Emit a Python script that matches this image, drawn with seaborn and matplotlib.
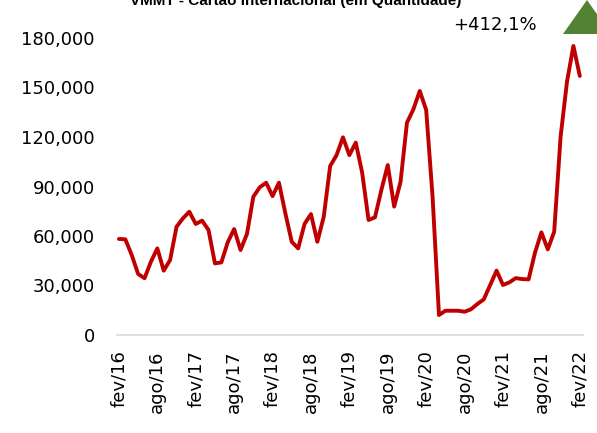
import matplotlib
matplotlib.use("Agg")
import matplotlib.pyplot as plt
from matplotlib.patches import Polygon
from matplotlib.ticker import FuncFormatter
import pandas as pd
import seaborn as sns

# Monthly quantity, fev/2016 .. fev/2022
meses_pt = ["jan", "fev", "mar", "abr", "mai", "jun",
            "jul", "ago", "set", "out", "nov", "dez"]
quantidade = [
    58200, 58000, 48500, 37000, 34400, 44400, 52500, 39000, 45500, 65600, 70700,   # 2016
    74700, 67300, 69300, 63600, 43400, 44000, 56200, 64200, 51500, 61200, 83800,
    89500, 92300,                                                                  # 2017
    84200, 92300, 73800, 56500, 52500, 67300, 73300, 56500, 71700, 102400, 109000,
    119800,                                                                        # 2018
    109000, 116600, 98400, 69700, 71300, 87900, 103000, 77800, 92900, 128700,
    136800, 147900,                                                                # 2019
    136400, 83800, 12100, 14700, 14700, 14700, 14100, 15600, 18800, 21600, 30300,
    39000,                                                                         # 2020
    30300, 31900, 34500, 33900, 33700, 49900, 62200, 51900, 62600, 120200, 153500,
    175200,                                                                        # 2021
    157000,                                                                        # 2022
]
variacao = "+412,1%"
titulo = "VMMT - Cartão Internacional (em Quantidade)"

# month labels starting at fev/16
rotulos = []
for i in range(len(quantidade)):
    m = (1 + i) % 12
    a = 16 + (1 + i) // 12
    rotulos.append(f"{meses_pt[m]}/{a:02d}")

df = pd.DataFrame({"idx": range(len(quantidade)), "mes": rotulos, "qtd": quantidade})

sns.set_theme(style="white")
plt.rcParams["font.family"] = ["DejaVu Sans"]
plt.rcParams["text.color"] = "#000000"

W, H = 597, 433
fig = plt.figure(figsize=(W / 100, H / 100), dpi=100)
ax = fig.add_axes([117 / W, 1 - 335 / H, (583 - 117) / W, (335 - 38) / H])

sns.lineplot(data=df, x="idx", y="qtd", ax=ax, color="#C00000", linewidth=2.8)

ax.set_ylim(0, 180000)
ax.set_yticks(range(0, 180001, 30000))
ax.yaxis.set_major_formatter(FuncFormatter(lambda v, p: f"{int(v):,}"))
ax.set_xlim(-0.3, len(quantidade) - 0.5)
xt = list(range(0, len(quantidade), 6))
ax.set_xticks(xt)
ax.set_xticklabels([rotulos[i] for i in xt], rotation=90)

ax.tick_params(axis="y", labelsize=13, length=0, pad=16, colors="#000000")
ax.tick_params(axis="x", labelsize=13, length=0, pad=11, colors="#000000")
ax.set_xlabel("")
ax.set_ylabel("")
for s in ["top", "right", "left"]:
    ax.spines[s].set_visible(False)
ax.spines["bottom"].set_color("#D9D9D9")
ax.spines["bottom"].set_linewidth(1.2)
ax.grid(False)

fig.text(296 / W, 1 - 5 / H, titulo, ha="center", va="baseline", color="#000000",
         fontsize=11, fontweight="bold", family=["Liberation Sans", "DejaVu Sans"])
fig.text(537 / W, 1 - 25 / H, variacao, ha="right", va="center", fontsize=13,
         color="#000000")

tri = Polygon([(587 / W, 1 - 0 / H), (563 / W, 1 - 34 / H), (611 / W, 1 - 34 / H)],
              closed=True, transform=fig.transFigure, facecolor="#548235",
              edgecolor="none", clip_on=False)
fig.patches.append(tri)

fig.savefig("out.png", dpi=100)
